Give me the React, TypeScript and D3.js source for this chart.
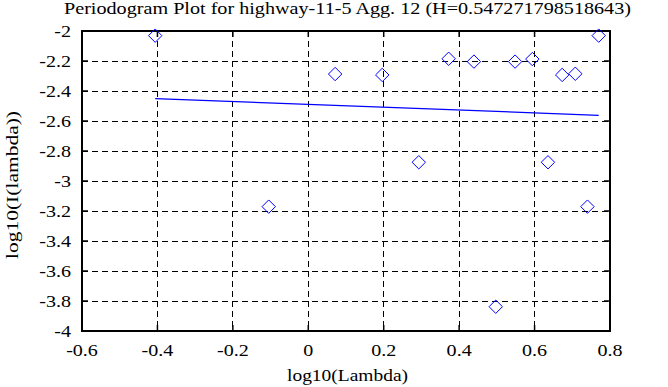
import React from "react";
import * as d3 from "d3";

const TITLE = "Periodogram Plot for highway-11-5 Agg. 12 (H=0.547271798518643)";
const X_LABEL = "log10(Lambda)";
const Y_LABEL = "log10(I(lambda))";

const logLambda = [
  -0.4059, -0.1049, 0.0712, 0.1961, 0.293, 0.3722, 0.4392, 0.4971, 0.5483,
  0.5941, 0.6355, 0.6732, 0.708, 0.7402, 0.7701,
];
const logI = [
  -2.031, -3.171, -2.287, -2.293, -2.875, -2.185, -2.204, -3.838, -2.204,
  -2.187, -2.875, -2.293, -2.285, -3.171, -2.031,
];
const fitX = [-0.4059, 0.7701];
const fitY = [-2.451, -2.562];

const xTicks = [-0.6, -0.4, -0.2, 0, 0.2, 0.4, 0.6, 0.8];
const yTicks = [-2, -2.2, -2.4, -2.6, -2.8, -3, -3.2, -3.4, -3.6, -3.8, -4];

const W = 668;
const H = 387;
const L = 82;
const R = 610;
const T = 31;
const B = 331;
const FONT = "Liberation Serif";
const FS = 17;
const SX = 1.18;

export default function App() {
  const x = d3.scaleLinear().domain([-0.6, 0.8]).range([L, R]);
  const y = d3.scaleLinear().domain([-4, -2]).range([B, T]);
  const line = d3
    .line<number>()
    .x((d) => x(d))
    .y((_, i) => y(fitY[i]));
  const diamond = (cx: number, cy: number, r: number) =>
    `M${cx},${cy - r}L${cx + r},${cy}L${cx},${cy + r}L${cx - r},${cy}Z`;
  const fmt = (v: number) => {
    const s = d3.format("~g")(Math.round(v * 10) / 10);
    return s.replace("−", "-");
  };
  return (
    <svg
      width={W}
      height={H}
      style={{ position: "absolute", left: 0, top: 0, background: "#fff" }}
    >
      <rect x={0} y={0} width={W} height={H} fill="#fff" />
      {xTicks.slice(1, -1).map((t) => (
        <line
          key={"gx" + t}
          x1={x(t)}
          x2={x(t)}
          y1={T}
          y2={B}
          stroke="#000"
          strokeWidth={1}
          strokeDasharray="6,4"
          shapeRendering="crispEdges"
        />
      ))}
      {yTicks.slice(1, -1).map((t) => (
        <line
          key={"gy" + t}
          x1={L}
          x2={R}
          y1={y(t)}
          y2={y(t)}
          stroke="#000"
          strokeWidth={1}
          strokeDasharray="6,4"
          shapeRendering="crispEdges"
        />
      ))}
      {xTicks.map((t) => (
        <g key={"tx" + t}>
          <line x1={x(t)} x2={x(t)} y1={B} y2={B - 6} stroke="#000" strokeWidth={1.5} />
          <line x1={x(t)} x2={x(t)} y1={T} y2={T + 6} stroke="#000" strokeWidth={1.5} />
          <text
            transform={`translate(${x(t)},356) scale(${SX},1)`}
            fontFamily={FONT}
            fontSize={FS}
            textAnchor="middle"
            fill="#000"
          >
            {fmt(t)}
          </text>
        </g>
      ))}
      {yTicks.map((t) => (
        <g key={"ty" + t}>
          <line x1={L} x2={L + 6} y1={y(t)} y2={y(t)} stroke="#000" strokeWidth={1.5} />
          <line x1={R} x2={R - 6} y1={y(t)} y2={y(t)} stroke="#000" strokeWidth={1.5} />
          <text
            transform={`translate(71,${y(t) + 6}) scale(${SX},1)`}
            fontFamily={FONT}
            fontSize={FS}
            textAnchor="end"
            fill="#000"
          >
            {fmt(t)}
          </text>
        </g>
      ))}
      <rect
        x={L}
        y={T}
        width={R - L}
        height={B - T}
        fill="none"
        stroke="#000"
        strokeWidth={2}
      />
      <path d={line(fitX) || ""} fill="none" stroke="#0000ff" strokeWidth={1.3} />
      {logLambda.map((v, i) => (
        <path
          key={"p" + i}
          d={diamond(x(v), y(logI[i]), 6.7)}
          fill="none"
          stroke="#0000ff"
          strokeWidth={1}
        />
      ))}
      <text
        x={64}
        y={14}
        fontFamily={FONT}
        fontSize={FS}
        textLength={567}
        lengthAdjust="spacingAndGlyphs"
        fill="#000"
      >
        {TITLE}
      </text>
      <text
        x={287}
        y={381}
        fontFamily={FONT}
        fontSize={FS}
        textLength={121}
        lengthAdjust="spacingAndGlyphs"
        fill="#000"
      >
        {X_LABEL}
      </text>
      <text
        transform={`translate(18,259) rotate(-90)`}
        fontFamily={FONT}
        fontSize={FS}
        textLength={148}
        lengthAdjust="spacingAndGlyphs"
        fill="#000"
      >
        {Y_LABEL}
      </text>
    </svg>
  );
}
